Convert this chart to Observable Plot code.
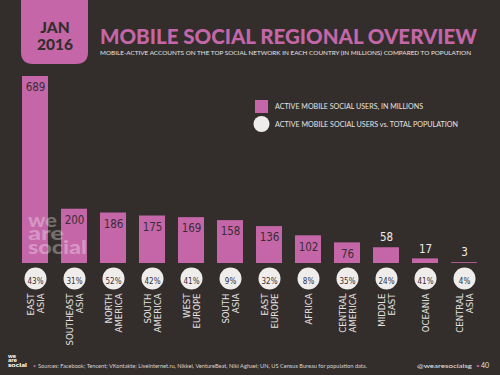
<!DOCTYPE html>
<html>
<head>
<meta charset="utf-8">
<script src="https://cdn.jsdelivr.net/npm/d3@7"></script>
<script src="https://cdn.jsdelivr.net/npm/@observablehq/plot@0.6"></script>
<style>
  html, body { margin: 0; padding: 0; background: #332e2c; }
  #wrap { position: relative; width: 500px; height: 375px; overflow: hidden; background: #332e2c; }
  #wrap > svg { position: absolute; left: 0; top: 0; }
  #overlay { pointer-events: none; }
</style>
</head>
<body>
<div id="wrap"></div>
<script>
// ---- data ----
const regions = ["EAST\nASIA","SOUTHEAST\nASIA","NORTH\nAMERICA","SOUTH\nAMERICA","WEST\nEUROPE","SOUTH\nASIA","EAST\nEUROPE","AFRICA","CENTRAL\nAMERICA","MIDDLE\nEAST","OCEANIA","CENTRAL\nASIA"];
const users = [689, 200, 186, 175, 169, 158, 136, 102, 76, 58, 17, 3];
const penetration = ["43%","31%","52%","42%","41%","9%","32%","8%","35%","24%","41%","4%"];

const titleText = "MOBILE SOCIAL REGIONAL OVERVIEW";
const subtitleText = "MOBILE-ACTIVE ACCOUNTS ON THE TOP SOCIAL NETWORK IN EACH COUNTRY (IN MILLIONS) COMPARED TO POPULATION";
const legendItems = ["ACTIVE MOBILE SOCIAL USERS, IN MILLIONS", "ACTIVE MOBILE SOCIAL USERS vs. TOTAL POPULATION"];
const sourceText = "Sources: Facebook; Tencent; VKontakte; LiveInternet.ru, Nikkei, VentureBeat, Niki Aghaei; UN, US Census Bureau for population data.";
const brandWords = ["we", "are", "social"];

const data = regions.map((r, i) => ({region: r, users: users[i], pct: penetration[i]}));
const inside = data.filter(d => d.users >= 70);
const above = data.filter(d => d.users < 70);

const PINK = "#c466a8";
const BG = "#332e2c";
const LIGHT = "#efedeb";
const NARROW = "'Liberation Sans Narrow', 'DejaVu Sans Condensed', sans-serif";

const chart = Plot.plot({
  width: 500,
  height: 375,
  margin: 0,
  style: {background: "transparent", fontFamily: NARROW},
  x: {domain: regions, range: [13.3, 486.1], paddingInner: 0.34, paddingOuter: 0.17, axis: null},
  y: {domain: [0, 689], range: [263, 76], axis: null},
  marks: [
    Plot.barY(data, {x: "region", y: "users", fill: PINK}),
    Plot.text(inside, {x: "region", y: "users", text: d => String(d.users), dy: 11, fill: "#3b2d36", fontSize: 11.5}),
    Plot.text(above, {x: "region", y: "users", text: d => String(d.users), dy: -10, fill: LIGHT, fontSize: 11.5}),
    Plot.dot(data, {x: "region", frameAnchor: "top", dy: 278, r: 11, fill: LIGHT, stroke: "none"}),
    Plot.text(data, {x: "region", frameAnchor: "top", dy: 278, text: "pct", fill: "#3b2d36", fontSize: 8}),
    Plot.text(data, {x: "region", frameAnchor: "top", dy: 293, text: "region", rotate: -90, textAnchor: "end", lineAnchor: "middle", lineHeight: 1.15, fill: "#e6e3e0", fontSize: 9.5})
  ]
});
document.getElementById("wrap").appendChild(chart);

// ---- overlay: header, legend, footer ----
const ov = d3.select("#wrap").append("svg").attr("id", "overlay")
  .attr("width", 500).attr("height", 375);

// date badge with rounded bottom corners
ov.append("path").attr("fill", PINK)
  .attr("d", "M21,0 H88 V52 Q88,64 76,64 H33 Q21,64 21,52 Z");
ov.append("text").attr("x", 55).attr("y", 33).attr("text-anchor", "middle")
  .attr("font-family", "Lato, sans-serif").attr("font-weight", 900).attr("font-size", 15.5)
  .attr("fill", BG).text("JAN");
ov.append("text").attr("x", 55).attr("y", 50).attr("text-anchor", "middle")
  .attr("font-family", "Lato, sans-serif").attr("font-weight", 900).attr("font-size", 15.5)
  .attr("fill", BG).text("2016");

ov.append("text").attr("x", 100).attr("y", 44)
  .attr("font-family", "Lato, sans-serif").attr("font-weight", 900).attr("font-size", 20.5)
  .attr("fill", PINK).attr("textLength", 377).attr("lengthAdjust", "spacingAndGlyphs").text(titleText);
ov.append("text").attr("x", 100).attr("y", 55)
  .attr("font-family", "Lato, sans-serif").attr("font-size", 5.2)
  .attr("fill", "#e6e3e0").attr("textLength", 371).attr("lengthAdjust", "spacingAndGlyphs").text(subtitleText);

// legend
ov.append("rect").attr("x", 255).attr("y", 100).attr("width", 13).attr("height", 13).attr("fill", PINK);
ov.append("circle").attr("cx", 261.5).attr("cy", 124).attr("r", 8).attr("fill", LIGHT);
ov.append("text").attr("x", 275).attr("y", 109)
  .attr("font-family", "Lato, sans-serif").attr("font-size", 7)
  .attr("fill", "#e6e3e0").attr("textLength", 148).attr("lengthAdjust", "spacingAndGlyphs").text(legendItems[0]);
ov.append("text").attr("x", 275).attr("y", 127)
  .attr("font-family", "Lato, sans-serif").attr("font-size", 7)
  .attr("fill", "#e6e3e0").attr("textLength", 183).attr("lengthAdjust", "spacingAndGlyphs").text(legendItems[1]);

// ghost brand over the first bars (tight, stacked logo)
const ghostY = [227, 240, 254];
const ghostW = [29, 36, 59];
brandWords.forEach((w, i) => {
  ov.append("text").attr("x", 28).attr("y", ghostY[i])
    .attr("font-family", "Lato, sans-serif").attr("font-weight", 900).attr("font-size", 11)
    .attr("transform", `translate(28,${ghostY[i]}) scale(1,1.75) translate(-28,${-ghostY[i]})`)
    .attr("fill", "#ffffff").attr("fill-opacity", 0.33)
    .attr("textLength", ghostW[i]).attr("lengthAdjust", "spacingAndGlyphs").text(w);
});

// footer logo
const logoY = [358, 362.5, 367];
const logoW = [8, 9, 19];
brandWords.forEach((w, i) => {
  ov.append("text").attr("x", 8).attr("y", logoY[i])
    .attr("font-family", "Lato, sans-serif").attr("font-weight", 900).attr("font-size", 3.5)
    .attr("transform", `translate(8,${logoY[i]}) scale(1,1.4) translate(-8,${-logoY[i]})`)
    .attr("fill", "#ffffff").attr("textLength", logoW[i]).attr("lengthAdjust", "spacingAndGlyphs").text(w);
});
ov.append("text").attr("x", 33).attr("y", 368).attr("font-family", "Lato, sans-serif").attr("font-size", 5)
  .attr("fill", PINK).text("•");
ov.append("text").attr("x", 38).attr("y", 368).attr("font-family", "Lato, sans-serif").attr("font-size", 5)
  .attr("fill", "#d9d5d2").attr("textLength", 329).attr("lengthAdjust", "spacingAndGlyphs").text(sourceText);
ov.append("text").attr("x", 417).attr("y", 368).attr("font-family", "Lato, sans-serif").attr("font-size", 6.5)
  .attr("fill", "#e6e3e0").attr("textLength", 55).attr("lengthAdjust", "spacingAndGlyphs").text("@wearesocialsg");
ov.append("text").attr("x", 476).attr("y", 368).attr("font-family", "Lato, sans-serif").attr("font-size", 6.5)
  .attr("fill", PINK).text("•");
ov.append("text").attr("x", 481).attr("y", 368).attr("font-family", "Lato, sans-serif").attr("font-size", 7)
  .attr("fill", "#e6e3e0").text("40");
</script>
</body>
</html>
